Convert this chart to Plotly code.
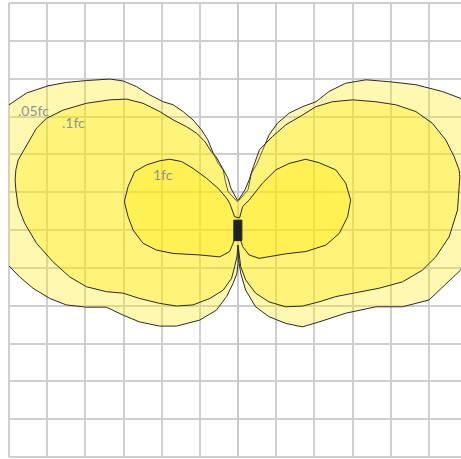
import plotly.graph_objects as go

# Isofootcandle contours (grid units), each a closed butterfly loop
fc005_x = [-0.02, -0.26, -0.33, -0.39, -0.52, -0.65, -0.79, -0.96, -1.18, -1.44, -1.70, -1.96, -2.31, -2.66,
           -3.01, -3.36, -3.97, -4.50, -4.98, -5.54, -6.00, -6.30, -6.50, -6.60, -6.60, -6.50, -6.30,
           -6.00, -5.72, -5.37, -4.93, -4.50, -3.97, -3.62, -3.45, -3.01, -2.58, -2.05, -1.61, -1.00,
           -0.57, -0.30, -0.13, -0.03, 0.00, 0.00,
           0.03, 0.07, 0.20, 0.46, 0.81, 1.25, 1.69, 2.12, 2.82, 3.61, 4.31, 5.00, 5.83, 6.20, 6.45,
           6.50, 6.40, 6.15, 5.83, 5.35, 4.66, 3.96, 3.35, 2.82, 2.38, 2.04, 1.69, 1.34, 1.03, 0.81,
           0.65, 0.50, 0.35, 0.26, 0.01]
fc005_y = [0.75, 1.01, 1.28, 1.59, 1.76, 2.03, 2.38, 2.65, 2.91, 3.13, 3.31, 3.39, 3.57, 3.79,
           3.94, 3.99, 3.95, 3.90, 3.81, 3.62, 3.31, 3.10, 2.50, 1.50, 0.50, -0.30, -0.80,
           -0.95, -1.24, -1.54, -1.81, -1.98, -2.04, -2.03, -2.04, -2.25, -2.43, -2.54, -2.54, -2.38,
           -2.12, -1.76, -1.41, -1.15, -0.88, -0.40,
           -0.88, -1.15, -1.59, -2.03, -2.29, -2.47, -2.56, -2.43, -2.20, -2.03, -2.03, -1.85, -1.06, -0.60, 0.20,
           1.00, 2.00, 2.80, 3.48, 3.66, 3.84, 3.92, 3.97, 3.88, 3.66, 3.39, 3.26, 3.09, 2.82, 2.51,
           2.12, 1.76, 1.50, 1.06, 0.77]

fc01_x = [-0.02, -0.19, -0.27, -0.43, -0.57, -0.70, -0.87, -1.09, -1.35, -1.70, -2.05, -2.49, -2.92, -3.36,
          -3.97, -4.58, -5.02, -5.28, -5.54, -5.76, -5.82, -5.84, -5.82, -5.76, -5.59, -5.28, -4.85,
          -4.41, -3.97, -3.45, -3.01, -2.58, -2.05, -1.61, -1.18, -0.74, -0.39, -0.17, -0.09, -0.03, 0.00,
          0.03, 0.07, 0.20, 0.46, 0.81, 1.25, 1.69, 2.12, 2.56, 3.00, 3.69, 4.31, 4.83, 5.18, 5.53,
          5.75, 5.79, 5.81, 5.79, 5.66, 5.44, 5.09, 4.66, 4.13, 3.61, 3.00, 2.47, 2.04, 1.69, 1.25,
          0.90, 0.56, 0.40, 0.29, 0.18, 0.01]
fc01_y = [0.79, 1.11, 1.38, 1.69, 1.93, 2.07, 2.34, 2.56, 2.73, 2.91, 3.13, 3.35, 3.46, 3.44,
          3.35, 3.17, 2.95, 2.69, 2.25, 1.85, 1.59, 1.32, 1.06, 0.62, 0.18, -0.35, -0.84,
          -1.24, -1.50, -1.63, -1.67, -1.81, -1.94, -2.01, -1.98, -1.81, -1.59, -1.28, -0.97, -0.71, -0.40,
          -0.71, -0.97, -1.32, -1.67, -1.90, -2.03, -2.01, -1.90, -1.76, -1.67, -1.54, -1.37, -1.06, -0.71, -0.18,
          0.53, 1.06, 1.41, 1.59, 1.94, 2.38, 2.82, 3.13, 3.31, 3.39, 3.44, 3.39, 3.26, 3.04, 2.78,
          2.47, 2.12, 1.67, 1.32, 1.06, 0.79]

fc1_x = [-0.09, -0.22, -0.30, -0.52, -0.83, -1.18, -1.48, -1.79, -2.05, -2.40, -2.71, -2.88, -2.97, -2.97,
         -2.88, -2.75, -2.49, -2.14, -1.70, -1.00, -0.48, -0.22, -0.13, -0.06,
         0.04, 0.12, 0.29, 0.55, 1.25, 1.77, 2.30, 2.65, 2.87, 2.95, 2.95, 2.82, 2.56, 2.12, 1.77,
         1.34, 0.99, 0.64, 0.29, 0.12, 0.04]
fc1_y = [0.35, 0.71, 0.84, 1.10, 1.37, 1.63, 1.81, 1.87, 1.83, 1.72, 1.54, 1.15, 0.79, 0.71,
         0.35, 0.00, -0.35, -0.53, -0.62, -0.66, -0.71, -0.57, -0.35, -0.13,
         -0.18, -0.44, -0.66, -0.75, -0.63, -0.57, -0.40, -0.09, 0.35, 0.71, 0.79, 1.24, 1.59, 1.78, 1.87,
         1.76, 1.59, 1.24, 0.79, 0.62, 0.32]

fixture_x = [-0.11, 0.10, 0.10, -0.11, -0.11]
fixture_y = [0.26, 0.26, -0.28, -0.28, 0.26]

labels = [".05fc", ".1fc", "1fc"]
label_x = [-5.81, -4.67, -2.29]
label_y = [3.17, 2.83, 1.46]

fill = "rgba(255,232,0,0.31)"
line = dict(color="#2b2b2b", width=1)
grid = "#cfcfcf"

fig = go.Figure()
for xs, ys in [(fc005_x, fc005_y), (fc01_x, fc01_y), (fc1_x, fc1_y)]:
    fig.add_trace(go.Scatter(x=xs + xs[:1], y=ys + ys[:1], mode="lines", fill="toself",
                             fillcolor=fill, line=line, hoverinfo="skip", showlegend=False))
fig.add_trace(go.Scatter(x=fixture_x, y=fixture_y, mode="lines", fill="toself",
                         fillcolor="#222222", line=dict(color="#222222", width=1),
                         hoverinfo="skip", showlegend=False))

for t, x, y in zip(labels, label_x, label_y):
    fig.add_annotation(x=x, y=y, text=t, showarrow=False, xanchor="left", yanchor="middle",
                       font=dict(family="Lato", size=14, color="#929292"))

# plot frame (left, top, bottom)
for x0, y0, x1, y1 in [(0, 0, 0, 1), (0, 1, 1, 1), (0, 0, 1, 0)]:
    fig.add_shape(type="line", xref="paper", yref="paper", x0=x0, y0=y0, x1=x1, y1=y1,
                  line=dict(color=grid, width=2), layer="below")

fig.update_layout(
    width=461, height=459,
    margin=dict(l=9, r=0, t=3, b=2),
    paper_bgcolor="white", plot_bgcolor="white",
)
fig.update_xaxes(range=[-6, 5.84], dtick=1, tick0=0, showgrid=True, gridcolor=grid, gridwidth=1.5,
                 zeroline=True, zerolinecolor="#c8c8c8", zerolinewidth=2,
                 showticklabels=False, ticks="", showline=False, fixedrange=True)
fig.update_yaxes(range=[-6, 6], dtick=1, tick0=0, showgrid=True, gridcolor=grid, gridwidth=1.5,
                 zeroline=False, showticklabels=False, ticks="", showline=False, fixedrange=True)

fig.write_html("out.html", config={"displayModeBar": False},
               post_script="document.body.style.margin='0';document.body.style.overflow='hidden';")
